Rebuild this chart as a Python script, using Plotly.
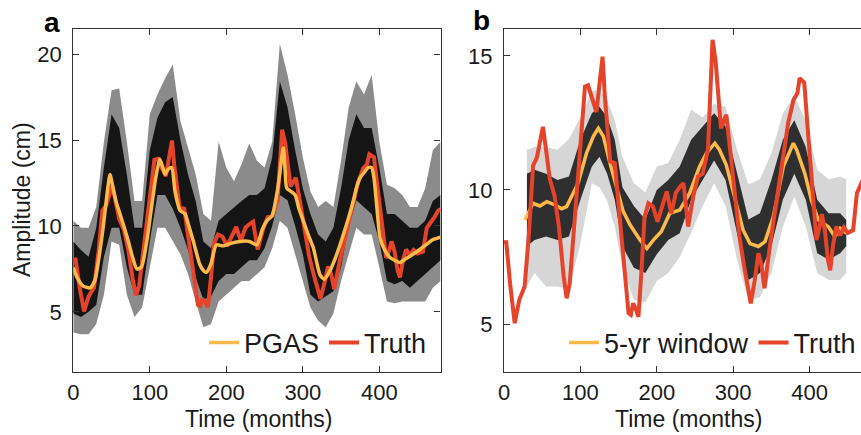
import plotly.graph_objects as go

# ---------------- data ----------------
truth_months = [0, 3, 8, 14, 20, 27, 33, 38, 43, 48, 51, 55, 60, 66, 72, 78, 82, 86, 92, 97,
                102, 106, 110, 115, 121, 126, 129, 132, 136, 139, 145, 150, 156, 163, 166, 169,
                172, 176, 180, 184, 189, 195, 201, 207, 213, 219, 225, 230, 235, 241, 248, 254,
                260, 267, 270, 273, 277, 280, 284, 288, 291, 296, 302, 308, 314, 320, 323, 328,
                333, 337, 341, 348, 355, 360, 366, 372, 379, 384, 387, 393, 397, 401, 405, 409,
                413, 416, 420, 424, 427, 431, 435, 440, 445, 450, 457, 462, 467, 472, 477, 480]
truth = [8.05, 8.05, 6.5, 5.03, 5.9, 6.4, 8.5, 10.9, 11.2, 12.0, 12.35, 11.5, 10.4, 9.8, 8.6,
         6.8, 5.96, 6.5, 8.8, 10.4, 12.5, 13.85, 13.9, 13.4, 12.9, 14.2, 14.97, 13.5, 11.8,
         11.06, 11.0, 9.5, 7.5, 5.4, 5.34, 5.77, 5.6, 5.27, 7.0, 9.0, 9.5, 9.38, 8.82, 9.4,
         9.94, 9.13, 9.9, 10.1, 10.25, 8.63, 9.8, 10.5, 10.6, 11.5, 13.5, 15.6, 14.8, 13.6,
         12.3, 12.6, 12.8, 11.5, 9.88, 8.3, 7.2, 6.15, 5.77, 6.6, 7.64, 7.2, 6.33, 7.9, 9.25,
         10.4, 11.5, 12.5, 13.36, 13.6, 14.17, 14.0, 12.5, 10.87, 9.5, 8.13, 8.6, 9.1, 8.5,
         7.4, 7.0, 8.0, 8.63, 8.3, 8.6, 8.4, 8.5, 9.88, 10.2, 10.5, 10.9, 11.0]

pgas_months = [0, 5, 13, 22, 28, 34, 39, 44, 48, 52, 56, 61, 66, 72, 78, 83, 89, 96, 102, 107,
               113, 117, 120, 124, 128.6, 133, 139.5, 146, 151, 157, 165, 170, 174, 180, 187,
               196, 207, 218, 230, 240, 247, 253, 260, 265, 268, 272, 274.5, 277, 279, 285,
               290, 295, 300.6, 307, 313.7, 322.5, 328, 335.6, 344, 353, 360, 366, 370, 374.8,
               380, 385.6, 390, 393, 397, 401, 407, 414, 420, 427, 435, 444, 452, 462, 470,
               477, 480]
pgas = [7.58, 7.0, 6.5, 6.4, 6.8, 8.3, 9.9, 11.8, 13.0, 12.2, 11.4, 10.7, 10.0, 9.1, 8.1, 7.5,
        7.6, 9.1, 11.0, 12.6, 13.9, 13.4, 13.0, 13.3, 13.4, 12.0, 10.9, 10.7, 10.0, 9.1, 7.8,
        7.4, 7.3, 7.8, 8.9, 8.84, 9.0, 9.1, 9.1, 8.9, 9.8, 10.3, 10.6, 11.6, 12.4, 13.8, 14.55,
        13.2, 12.2, 12.0, 11.8, 11.0, 10.3, 9.5, 8.74, 7.15, 6.9, 7.4, 8.3, 9.5, 10.5, 11.45,
        12.2, 12.8, 13.1, 13.4, 13.4, 12.8, 11.0, 9.3, 8.6, 8.16, 8.0, 7.87, 8.1, 8.35, 8.6,
        8.94, 9.2, 9.3, 9.35]

# PGAS ensemble envelope (panel a)
ens_a_months = [0, 10, 20, 30, 40, 50, 60, 70, 80, 90, 100, 110, 120, 130, 140, 150, 160, 170,
                180, 190, 200, 210, 220, 230, 240, 250, 260, 270, 280, 290, 300, 310, 320, 330,
                340, 350, 360, 370, 380, 390, 400, 410, 420, 430, 440, 450, 460, 470, 480]
ens_a_hi_outer = [10.3, 9.9, 9.9, 11.1, 14.9, 17.9, 18.0, 14.9, 11.45, 11.45, 16.5, 17.65, 18.6,
                  19.4, 16.1, 14.55, 13.0, 10.7, 10.3, 14.9, 13.4, 12.6, 13.6, 14.8, 13.8, 13.4,
                  14.9, 20.6, 18.8, 16.5, 14.0, 12.0, 11.1, 11.45, 11.1, 13.8, 16.9, 18.4, 17.65,
                  18.8, 14.9, 12.4, 12.2, 11.8, 11.1, 11.1, 12.2, 14.4, 14.9]
ens_a_hi_inner = [9.1, 8.6, 8.2, 9.9, 13.4, 16.5, 15.7, 13.0, 9.9, 9.9, 14.4, 16.3, 17.2, 17.5,
                  15.0, 13.0, 11.45, 9.1, 8.7, 10.3, 10.7, 11.1, 11.45, 11.8, 11.8, 12.2, 14.0,
                  18.4, 16.9, 14.4, 12.2, 10.7, 9.5, 9.1, 9.9, 12.2, 15.0, 16.5, 15.7, 15.7,
                  13.4, 10.7, 10.7, 10.3, 9.9, 9.9, 10.3, 11.45, 11.8]
ens_a_lo_inner = [4.9, 4.7, 5.0, 5.4, 8.2, 9.9, 9.9, 7.6, 6.0, 6.0, 9.1, 11.8, 11.8, 11.0, 9.9,
                  8.6, 7.0, 5.7, 5.9, 6.8, 7.2, 7.2, 7.6, 8.0, 8.0, 8.7, 10.0, 11.8, 11.5, 10.0,
                  8.35, 6.0, 5.6, 5.9, 6.2, 7.6, 10.0, 11.5, 11.1, 10.7, 9.1, 6.8, 6.6, 6.8, 6.4,
                  6.8, 7.2, 7.6, 8.0]
ens_a_lo_outer = [3.8, 3.7, 3.7, 4.3, 6.0, 9.1, 8.9, 6.0, 4.7, 5.25, 7.6, 9.9, 9.9, 9.1, 8.35,
                  7.2, 5.6, 4.1, 4.3, 5.6, 6.0, 6.4, 6.8, 6.8, 7.2, 7.6, 8.7, 10.3, 9.9, 8.35,
                  6.8, 5.25, 4.5, 4.1, 4.9, 6.8, 8.35, 9.9, 9.5, 9.5, 7.6, 5.6, 5.5, 5.6, 5.6,
                  5.6, 5.6, 6.4, 6.8]

# 5-yr window estimate (panel b)
win_months = [27.5, 38, 47, 56, 66, 75.5, 82, 88.6, 97, 108, 117, 123.5, 130, 138.7, 147.4, 156,
              165, 178, 187, 195.5, 206, 217, 230, 243, 256, 265, 276, 282, 291, 302, 313, 322,
              333, 341.6, 352.5, 365.6, 378.7, 383, 393.9, 402.6, 411.3, 424.4, 433, 440, 448.5]
win5 = [8.88, 9.5, 9.4, 9.56, 9.45, 9.3, 9.38, 9.75, 10.25, 11.37, 12.0, 12.3, 12.0, 11.0, 10.1,
        9.2, 8.7, 8.13, 7.82, 8.13, 8.45, 9.13, 9.25, 9.88, 10.87, 11.37, 11.74, 11.5, 10.93,
        9.75, 8.5, 8.0, 7.89, 8.07, 9.0, 10.87, 11.74, 11.5, 10.6, 9.6, 8.88, 8.63, 8.26, 8.57,
        8.38]

# window ensemble envelope (panel b)
ens_b_months = [30, 40, 55, 70, 85, 100, 115, 125, 135, 145, 155, 170, 185, 200, 215, 230, 245,
                260, 275, 290, 305, 320, 335, 350, 365, 380, 395, 410, 425, 440, 448]
ens_b_hi_outer = [11.5, 11.6, 11.6, 11.5, 11.9, 12.7, 13.7, 13.7, 13.36, 12.6, 11.24, 10.25, 9.9,
                  10.87, 11.0, 11.87, 13.0, 12.7, 13.2, 13.1, 11.5, 10.2, 10.4, 11.37, 12.86,
                  13.5, 12.6, 10.75, 10.4, 10.5, 10.4]
ens_b_hi_inner = [10.6, 10.75, 10.6, 10.37, 10.5, 11.87, 12.86, 13.1, 12.7, 11.87, 10.1, 9.4, 8.9,
                  10.0, 10.37, 10.87, 11.87, 12.36, 12.86, 12.36, 10.6, 8.9, 9.13, 10.37, 11.87,
                  12.6, 11.6, 9.63, 9.13, 9.13, 8.88]
ens_b_lo_inner = [7.9, 8.13, 8.26, 8.13, 8.26, 9.63, 10.87, 11.24, 10.6, 9.63, 7.9, 7.1, 6.9, 7.6,
                  8.13, 8.38, 9.63, 10.37, 11.1, 10.37, 8.38, 6.64, 6.9, 7.9, 9.63, 10.6, 9.63,
                  7.64, 7.4, 7.64, 7.9]
ens_b_lo_outer = [6.4, 6.9, 6.4, 6.4, 6.3, 8.0, 10.25, 10.1, 9.6, 8.63, 7.1, 5.9, 5.8, 6.6, 6.9,
                  7.5, 8.4, 9.4, 10.25, 9.4, 7.4, 5.9, 6.0, 6.9, 8.63, 9.75, 8.63, 6.9, 6.64,
                  6.64, 6.9]

x_ticks = [0, 100, 200, 300, 400]
a_y_ticks = [5, 10, 15, 20]
b_y_ticks = [5, 10, 15]

# ---------------- figure ----------------
RED = "#E5432A"
ORANGE = "#FDB94A"
FONT = "Liberation Sans, Arial, Helvetica, sans-serif"
TXT = "#1a1a1a"
AX = "#333333"

fig = go.Figure()


def band(xs, hi, lo, color, xa, ya):
    return go.Scatter(x=list(xs) + list(xs)[::-1], y=list(hi) + list(lo)[::-1],
                      fill="toself", fillcolor=color, mode="lines", line=dict(width=0),
                      hoverinfo="skip", showlegend=False, xaxis=xa, yaxis=ya)


# panel a
fig.add_trace(band(ens_a_months, ens_a_hi_outer, ens_a_lo_outer, "rgba(110,110,110,0.8)", "x", "y"))
fig.add_trace(band(ens_a_months, ens_a_hi_inner, ens_a_lo_inner, "rgba(15,15,15,0.95)", "x", "y"))
fig.add_trace(go.Scatter(x=truth_months, y=truth, mode="lines", name="Truth",
                         line=dict(color=RED, width=4), legend="legend", legendrank=2,
                         xaxis="x", yaxis="y"))
fig.add_trace(go.Scatter(x=pgas_months, y=pgas, mode="lines", name="PGAS",
                         line=dict(color=ORANGE, width=3.5, shape="spline", smoothing=0.6),
                         legend="legend", legendrank=1, xaxis="x", yaxis="y"))

# panel b
fig.add_trace(band(ens_b_months, ens_b_hi_outer, ens_b_lo_outer, "rgba(0,0,0,0.16)", "x2", "y2"))
fig.add_trace(band(ens_b_months, ens_b_hi_inner, ens_b_lo_inner, "rgba(0,0,0,0.78)", "x2", "y2"))
fig.add_trace(go.Scatter(x=win_months, y=win5, mode="lines", name="5-yr window",
                         line=dict(color=ORANGE, width=3.5), legend="legend2", legendrank=1,
                         xaxis="x2", yaxis="y2"))
fig.add_trace(go.Scatter(x=truth_months, y=truth, mode="lines", name="Truth",
                         line=dict(color=RED, width=4), legend="legend2", legendrank=2,
                         xaxis="x2", yaxis="y2"))

W, H = 861, 435
ydom = [1 - 372 / H, 1 - 29 / H]

common_x = dict(tickvals=x_ticks, ticks="inside", ticklen=6, tickwidth=1.2, tickcolor=AX,
                showline=True, linecolor=AX, linewidth=1.3, mirror="ticks",
                showgrid=False, zeroline=False, automargin=False,
                tickfont=dict(family=FONT, size=22, color=TXT), ticklabelstandoff=0)
common_y = dict(ticks="inside", ticklen=6, tickwidth=1.2, tickcolor=AX,
                showline=True, linecolor=AX, linewidth=1.3,
                showgrid=False, zeroline=False, automargin=False,
                tickfont=dict(family=FONT, size=22, color=TXT), ticklabelstandoff=6)

fig.update_layout(
    width=W, height=H,
    margin=dict(l=0, r=0, t=0, b=0),
    paper_bgcolor="white", plot_bgcolor="white",
    font=dict(family=FONT, color=TXT),
    xaxis=dict(domain=[73.3 / W, 440.5 / W], range=[0, 480], anchor="y", **common_x),
    yaxis=dict(domain=ydom, range=[1.5, 21.46], tickvals=a_y_ticks, anchor="x",
               mirror="ticks", **common_y),
    xaxis2=dict(domain=[504 / W, 1.0], range=[0, 467.3], anchor="y2", **common_x),
    yaxis2=dict(domain=ydom, range=[3.21, 16.0], tickvals=b_y_ticks, anchor="x2",
                mirror=False, **common_y),
    legend=dict(orientation="h", x=432 / W, xanchor="right", y=1 - 343 / H, yanchor="middle",
                bgcolor="rgba(0,0,0,0)", font=dict(family=FONT, size=27, color=TXT),
                itemwidth=30),
    legend2=dict(orientation="h", x=861 / W, xanchor="right", y=1 - 343 / H, yanchor="middle",
                 bgcolor="rgba(0,0,0,0)", font=dict(family=FONT, size=27, color=TXT),
                 itemwidth=30),
    annotations=[
        dict(text="Amplitude (cm)", x=22 / W, y=1 - 200 / H, xref="paper", yref="paper",
             textangle=-90, showarrow=False, font=dict(family=FONT, size=23, color=TXT),
             xanchor="center", yanchor="middle"),
        dict(text="Time (months)", x=258 / W, y=1 - 419 / H, xref="paper", yref="paper",
             showarrow=False, font=dict(family=FONT, size=23, color=TXT),
             xanchor="center", yanchor="middle"),
        dict(text="Time (months)", x=688 / W, y=1 - 419 / H, xref="paper", yref="paper",
             showarrow=False, font=dict(family=FONT, size=23, color=TXT),
             xanchor="center", yanchor="middle"),
        dict(text="<b>a</b>", x=52 / W, y=1 - 22 / H, xref="paper", yref="paper",
             showarrow=False, font=dict(family=FONT, size=28, color="#000"),
             xanchor="center", yanchor="middle"),
        dict(text="<b>b</b>", x=482 / W, y=1 - 21 / H, xref="paper", yref="paper",
             showarrow=False, font=dict(family=FONT, size=28, color="#000"),
             xanchor="center", yanchor="middle"),
    ],
)

fig.write_html("out.html", config={"displayModeBar": False},
               post_script="document.body.style.margin='0px';document.body.style.overflow='hidden';")
